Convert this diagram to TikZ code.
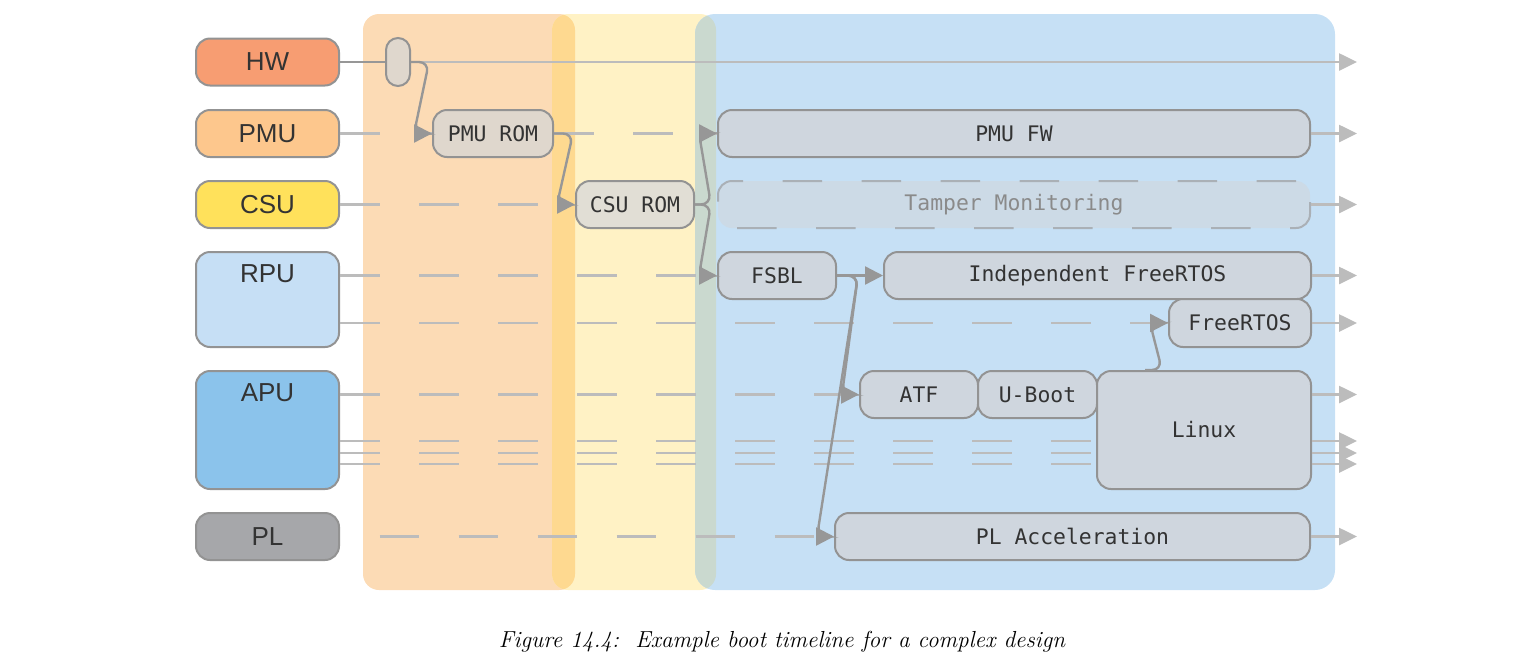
\documentclass[tikz,border=0pt]{standalone}
\usepackage{fontspec}
\usepackage{tikz}
\usetikzlibrary{arrows.meta}
\newfontfamily\labelfont{Liberation Sans}
\newfontfamily\codefont{DejaVu Sans Mono}
\definecolor{bandorange}{HTML}{FCDBB5}
\definecolor{bandyellow}{HTML}{FFF2C5}
\definecolor{bandblue}{HTML}{C6E0F5}
\definecolor{mixorange}{HTML}{FED990}
\definecolor{mixblue}{HTML}{CAD9CF}
\definecolor{hwfill}{HTML}{F79D72}
\definecolor{pmufill}{HTML}{FDC78D}
\definecolor{csufill}{HTML}{FFE15B}
\definecolor{rpufill}{HTML}{C6DFF5}
\definecolor{apufill}{HTML}{8BC3EB}
\definecolor{plfill}{HTML}{A6A7AA}
\definecolor{boxline}{HTML}{939393}
\definecolor{stagefill}{HTML}{CFD6DE}
\definecolor{romfill}{HTML}{DFD7CD}
\definecolor{csuromfill}{HTML}{E1DED5}
\definecolor{tamperfill}{HTML}{CCDAE6}
\definecolor{tamperline}{HTML}{AAB0B6}
\definecolor{tampertext}{HTML}{8A8A8A}
\definecolor{laneline}{HTML}{BCBCBC}
\definecolor{linkgray}{HTML}{979797}
\definecolor{textdark}{HTML}{333333}

\begin{document}
\begin{tikzpicture}[x=0.5pt, y=-0.5pt,
    unit/.style={draw=boxline, line width=1pt, rounded corners=7pt, inner sep=0pt,
      minimum width=71.5pt, minimum height=23.5pt, text=textdark,
      font=\labelfont\fontsize{13}{14}\selectfont},
    unittext/.style={inner sep=0pt, text=textdark, font=\labelfont\fontsize{13}{14}\selectfont},
    stage/.style={draw=boxline, fill=stagefill, line width=1pt, rounded corners=7pt,
      inner sep=0pt, minimum height=23.5pt, text=textdark,
      font=\codefont\fontsize{10.7}{12}\selectfont},
    lane/.style={draw=laneline, line width=1.3pt, dash pattern=on 19.75pt off 19.75pt},
    laneend/.style={draw=laneline, line width=1.3pt, -{Triangle[length=9pt,width=8.5pt]}},
    link/.style={draw=linkgray, line width=1.2pt, rounded corners=5pt,
      -{Triangle[length=9pt,width=9pt]}}]
  \useasboundingbox (0,0) rectangle (1517,670);

  % boot phases
  \fill[bandorange, rounded corners=8pt] (363,14) rectangle (575,590);
  \fill[bandyellow, rounded corners=8pt] (552,14) rectangle (716,590);
  \fill[bandblue, rounded corners=10pt] (695,14) rectangle (1335,590);
  \begin{scope}
    \clip[rounded corners=8pt] (363,14) rectangle (575,590);
    \fill[mixorange, rounded corners=8pt] (552,14) rectangle (716,590);
  \end{scope}
  \begin{scope}
    \clip[rounded corners=8pt] (552,14) rectangle (716,590);
    \fill[mixblue, rounded corners=10pt] (695,14) rectangle (1335,590);
  \end{scope}

  % processing units
  \node[unit, fill=hwfill] (hw) at (267.5,62) {HW};
  \node[unit, fill=pmufill] (pmu) at (267.5,133.5) {PMU};
  \node[unit, fill=csufill] (csu) at (267.5,204.5) {CSU};
  \node[unit, fill=rpufill, minimum height=47.5pt] (rpu) at (267.5,299.5) {};
  \node[unittext] (rpulabel) at (267.5,274) {RPU};
  \node[unit, fill=apufill, minimum height=59pt] (apu) at (267.5,430) {};
  \node[unittext] (apulabel) at (267.5,393) {APU};
  \node[unit, fill=plfill] (pl) at (267.5,536.5) {PL};

  % boot stages
  \node[stage, fill=romfill, minimum width=12pt, minimum height=24pt, rounded corners=6pt] (por) at (398,62) {};
  \node[stage, fill=romfill, minimum width=60pt] (pmurom) at (493,133.5) {PMU ROM};
  \node[stage, fill=csuromfill, minimum width=59pt] (csurom) at (635,204.5) {CSU ROM};
  \node[stage, minimum width=296pt] (pmufw) at (1014,133.5) {PMU FW};
  \node[stage, fill=tamperfill, draw=tamperline, dash pattern=on 19.75pt off 19.75pt,
    text=tampertext, minimum width=296pt] (tamper) at (1014,204.5) {Tamper Monitoring};
  \node[stage, minimum width=59pt] (fsbl) at (777,275.5) {FSBL};
  \node[stage, minimum width=213.5pt] (rtos) at (1097.5,275.5) {Independent FreeRTOS};
  \node[stage, minimum width=71pt, minimum height=24pt] (freertos) at (1240,323) {FreeRTOS};
  \node[stage, minimum width=59pt] (atf) at (919,394.5) {ATF};
  \node[stage, minimum width=59.5pt] (uboot) at (1037.5,394.5) {U-Boot};
  \node[stage, minimum width=107pt, minimum height=59pt] (linux) at (1204,430) {Linux};
  \node[stage, minimum width=237.5pt] (placc) at (1072.5,536.5) {PL Acceleration};

  % idle lanes
  \draw[lane] (pmu.east) -- (pmurom.west);
  \draw[lane] (pmurom.east) -- (pmufw.west);
  \draw[lane] (csu.east) -- (csurom.west);
  \draw[lane] (rpu.east |- fsbl.west) -- (fsbl.west);
  \draw[lane] (rpu.east |- freertos.west) -- (freertos.west);
  \draw[lane] (apu.east |- atf.west) -- (atf.west);
  \foreach \y in {441,453,464}
    \draw[lane] (apu.east |- 0,\y) -- (linux.west |- 0,\y);
  \draw[lane, dash phase=19.75pt] (pl.east) -- (placc.west);

  % running lanes
  \foreach \n/\y in {hw/62,pmu/133.5,csu/204.5,rpua/275.5,rpub/323,apua/394.5,apub/441,apuc/453,apud/464,pl/536.5}
    \coordinate (end\n) at (1357,\y);
  \draw[laneend] (por.east) -- (endhw);
  \draw[laneend] (pmufw.east) -- (endpmu);
  \draw[laneend] (tamper.east) -- (endcsu);
  \draw[laneend] (rtos.east) -- (endrpua);
  \draw[laneend] (freertos.east) -- (endrpub);
  \draw[laneend] (linux.east |- endapua) -- (endapua);
  \draw[laneend] (linux.east |- endapub) -- (endapub);
  \draw[laneend] (linux.east |- endapuc) -- (endapuc);
  \draw[laneend] (linux.east |- endapud) -- (endapud);
  \draw[laneend] (placc.east) -- (endpl);

  % hand-offs
  \draw[draw=linkgray, line width=1.3pt] (hw.east) -- (por.west);
  \draw[link] (por.east) -- ++(18,0) -- ([xshift=-9pt]pmurom.west) -- (pmurom.west);
  \draw[link] (pmurom.east) -- ++(19,0) -- ([xshift=-9pt]csurom.west) -- (csurom.west);
  \draw[link] (csurom.east) -- ++(16,0) -- ([xshift=-9pt]pmufw.west) -- (pmufw.west);
  \draw[link] (csurom.east) -- ++(16,0) -- ([xshift=-9pt]fsbl.west) -- (fsbl.west);
  \draw[link] (fsbl.east) -- (rtos.west);
  \draw[link] (fsbl.east) -- ++(21,0) -- ([xshift=-8.5pt]atf.west) -- (atf.west);
  \draw[link] (fsbl.east) -- ++(21,0) -- ([xshift=-8.5pt]placc.west) -- (placc.west);
  \draw[link] ([xshift=-29.5pt]linux.north) -- ++(17,0) -- ([xshift=-9pt]freertos.west) -- (freertos.west);

  \node (caption) at (782,642) {\fontsize{11.6}{14}\selectfont\itshape Figure 14.4:\ \ Example boot timeline for a complex design};
\end{tikzpicture}
\end{document}
